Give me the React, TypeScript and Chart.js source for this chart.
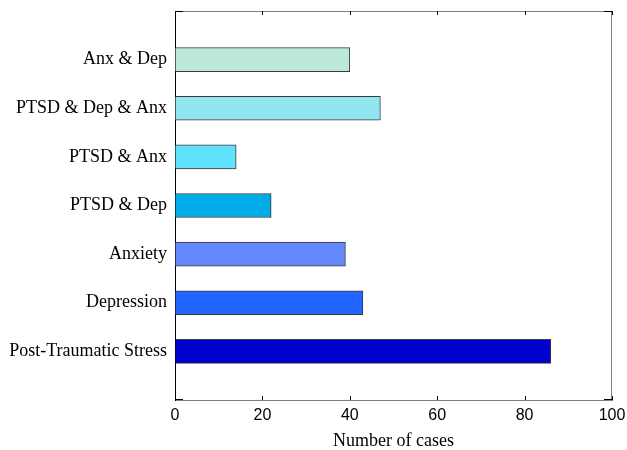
import React, { useEffect, useRef } from "react";
import { Chart, registerables } from "chart.js";

Chart.register(...registerables);

const categories = [
  "Anx & Dep",
  "PTSD & Dep & Anx",
  "PTSD & Anx",
  "PTSD & Dep",
  "Anxiety",
  "Depression",
  "Post-Traumatic Stress",
];
const cases = [40, 47, 14, 22, 39, 43, 86];
const barColors = [
  "#BCE8D8",
  "#8FE6EE",
  "#60E2FC",
  "#00ACE8",
  "#6388FE",
  "#2166FE",
  "#0000CC",
];
const xTicks = [0, 20, 40, 60, 80, 100];
const xTitle = "Number of cases";

export default function App() {
  const ref = useRef<HTMLCanvasElement | null>(null);

  useEffect(() => {
    if (!ref.current) return;
    const labels = ["", ...categories, ""];
    const data = [null, ...cases, null];
    const colors = ["#fff", ...barColors, "#fff"];

    const frame = {
      id: "frame",
      afterDraw(chart: any) {
        const { ctx, chartArea } = chart;
        const { left, right, top, bottom } = chartArea;
        const xs = chart.scales.x;
        const ys = chart.scales.y;
        ctx.save();
        ctx.lineWidth = 1;
        ctx.strokeStyle = "#808080";
        ctx.beginPath();
        ctx.moveTo(left, top + 0.5);
        ctx.lineTo(right, top + 0.5);
        ctx.moveTo(right - 0.5, top);
        ctx.lineTo(right - 0.5, bottom);
        ctx.stroke();
        ctx.strokeStyle = "#000";
        ctx.beginPath();
        for (const v of xTicks) {
          const px = Math.round(xs.getPixelForValue(v)) + 0.5;
          ctx.moveTo(px, top);
          ctx.lineTo(px, top + 4);
          ctx.moveTo(px, bottom);
          ctx.lineTo(px, bottom - 4);
        }
        for (const i of [0, labels.length - 1]) {
          const py = Math.round(ys.getPixelForValue(i)) + (i === 0 ? 0.5 : -0.5);
          ctx.moveTo(left, py);
          ctx.lineTo(left + 8, py);
          ctx.moveTo(right, py);
          ctx.lineTo(right - 8, py);
        }
        ctx.stroke();
        ctx.restore();
      },
    };

    const chart = new Chart(ref.current, {
      type: "bar",
      data: {
        labels,
        datasets: [
          {
            data,
            backgroundColor: colors,
            borderColor: "#3a3a3a",
            borderWidth: 1,
            barThickness: 24,
          } as any,
        ],
      },
      options: {
        indexAxis: "y",
        animation: false,
        responsive: false,
        maintainAspectRatio: false,
        layout: { padding: { top: 11, right: 15, left: 0, bottom: 0 } },
        plugins: { legend: { display: false }, tooltip: { enabled: false } },
        scales: {
          x: {
            type: "linear",
            min: 0,
            max: 100,
            afterBuildTicks: (s: any) => {
              s.ticks = xTicks.map((v) => ({ value: v }));
            },
            afterFit: (s: any) => {
              s.height = 50;
              s.paddingLeft = 0;
              s.paddingRight = 0;
            },
            grid: { display: true, drawOnChartArea: false, drawTicks: false },
            border: { display: true, color: "#808080", width: 1 },
            ticks: {
              color: "#000",
              padding: 6,
              maxRotation: 0,
              font: { family: "'Liberation Sans', Arial, sans-serif", size: 16 },
            },
            title: {
              display: true,
              text: xTitle,
              color: "#000",
              padding: { top: 0, bottom: -2 },
              font: { family: "'Liberation Serif', 'Times New Roman', serif", size: 18 },
            },
          },
          y: {
            type: "category",
            offset: false,
            afterFit: (s: any) => {
              s.width = 175;
              s.paddingTop = 0;
              s.paddingBottom = 0;
            },
            grid: { display: true, drawOnChartArea: false, drawTicks: false },
            border: { display: true, color: "#000", width: 1 },
            ticks: {
              color: "#000",
              padding: 8,
              autoSkip: false,
              font: { family: "'Liberation Serif', 'Times New Roman', serif", size: 18 },
            },
          },
        },
      },
      plugins: [frame],
    });
    return () => chart.destroy();
  }, []);

  return (
    <div style={{ position: "fixed", left: 0, top: 0, width: 627, height: 450, background: "#fff" }}>
      <canvas ref={ref} width={627} height={450} style={{ width: 627, height: 450 }} />
    </div>
  );
}
